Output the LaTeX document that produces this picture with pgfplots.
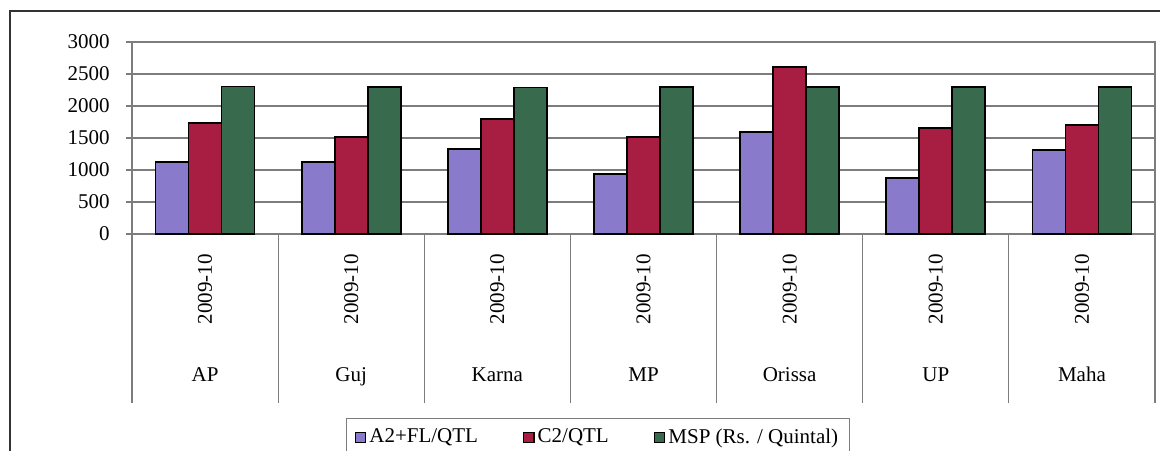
\documentclass[border=0pt]{standalone}
\usepackage{fontspec}
\setmainfont{Liberation Serif}
\usepackage{pgfplots}
\pgfplotsset{compat=1.18}
\usepackage{graphicx}
\definecolor{cA}{RGB}{138,122,204}
\definecolor{cB}{RGB}{168,30,66}
\definecolor{cC}{RGB}{56,106,78}
\definecolor{gridc}{RGB}{125,125,125}
\begin{document}
\fontsize{10.5}{12.6}\selectfont
\begin{tikzpicture}
\path[use as bounding box] (0,0) rectangle (580pt,-225pt);
\clip (0,0) rectangle (580pt,-225pt);
\draw[line width=1pt, black!80] (5pt,-5.25pt) rectangle (700pt,-400pt);
\begin{axis}[
  at={(66pt,-117pt)}, anchor=south west,
  width=511.5pt, height=96pt, scale only axis,
  ybar=0pt, bar width=16.5pt,
  xmin=-0.5, xmax=6.5, ymin=0, ymax=3000,
  xtick={0,...,6},
  xticklabels={
    {\rotatebox{90}{2009-10}\\[16pt]AP},
    {\rotatebox{90}{2009-10}\\[16pt]Guj},
    {\rotatebox{90}{2009-10}\\[16pt]Karna},
    {\rotatebox{90}{2009-10}\\[16pt]MP},
    {\rotatebox{90}{2009-10}\\[16pt]Orissa},
    {\rotatebox{90}{2009-10}\\[16pt]UP},
    {\rotatebox{90}{2009-10}\\[16pt]Maha}},
  x tick style={draw=none},
  xticklabel style={align=center, anchor=north, yshift=-3.5pt},
  extra x ticks={-0.5,0.5,...,6.5},
  extra x tick labels={},
  extra x tick style={grid=none, major tick length=84.5pt, tick align=outside,
     x tick style={draw=gridc, line width=0.6pt}},
  ytick={0,500,...,3000},
  y tick style={draw=gridc, line width=0.6pt},
  major tick length=3pt,
  tick align=outside,
  tick pos=left,
  ymajorgrids,
  grid style={gridc, line width=0.6pt},
  axis line style={gridc, line width=0.6pt},
  yticklabel style={xshift=-4.5pt},
  /pgf/number format/.cd, 1000 sep={}, assume math mode=true, /pgfplots/.cd,
  every axis plot/.append style={draw=black, line width=0.9pt},
  legend image code/.code={\draw[#1, line width=0.6pt] (0pt,-2.6pt) rectangle (5.2pt,2.6pt);},
  legend style={at={(0.4555,-0.958)}, anchor=north, draw=gridc, line width=0.6pt,
    legend columns=3, inner xsep=4pt, inner ysep=3pt,
    nodes={inner xsep=1.5pt},
    /tikz/every even column/.append style={column sep=21pt}},
]
\addplot[fill=cA] coordinates {(0,1120) (1,1130) (2,1325) (3,940) (4,1590) (5,880) (6,1310)};
\addplot[fill=cB] coordinates {(0,1740) (1,1510) (2,1795) (3,1520) (4,2615) (5,1655) (6,1700)};
\addplot[fill=cC] coordinates {(0,2305) (1,2300) (2,2290) (3,2300) (4,2300) (5,2295) (6,2295)};
\legend{A2+FL/QTL, C2/QTL, MSP (Rs. / Quintal)}
\end{axis}
\end{tikzpicture}
\end{document}
